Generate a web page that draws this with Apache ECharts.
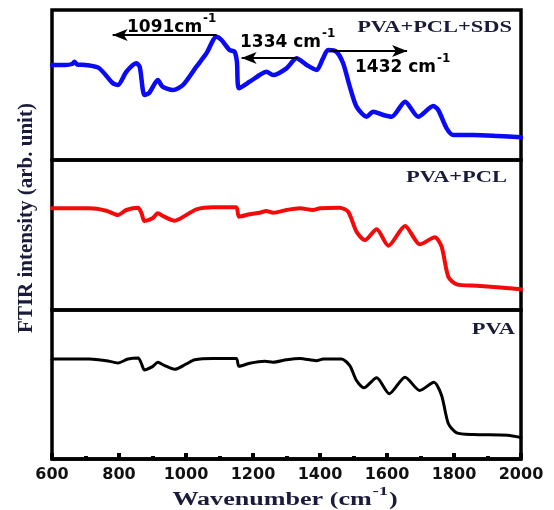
<!DOCTYPE html>
<html><head><meta charset="utf-8">
<script src="https://cdn.jsdelivr.net/npm/echarts@6/dist/echarts.min.js"></script>
<style>html,body{margin:0;padding:0;background:#fff}#c{width:554px;height:510px}</style>
</head><body><div id="c"></div>
<script>
// ---- data (wavenumber in cm^-1, intensity in arbitrary units) ----
const xTicks = [600, 800, 1000, 1200, 1400, 1600, 1800, 2000];
const panelNames = ['PVA+PCL+SDS', 'PVA+PCL', 'PVA'];

const sdsWn  = [600,640,660,667,675,700,740,781,797,822,852,862,876,890,916,930,961,991,1031,1061,1091,1106,1130,1145,1152,1158,1190,1220,1240,1260,1300,1330,1360,1390,1409,1424,1449,1469,1489,1509,1539,1559,1589,1614,1654,1693,1738,1753,1778,1798,1858,1930,2000];
const sdsVal = [95,95,96,98.3,95.5,95,92,77,75,88.3,96.7,93,65,67,80,73.3,70,75,93.3,106.7,123.3,120,110,108.3,98,71.7,78.3,85,88.3,85,91.7,101.7,95,90,101.7,110,108.3,96.7,73.3,53.3,43.3,48.3,45,43.3,58.3,43.3,54,50,31.7,25,25,24,22.7];

const pclWn  = [600,712,762,797,822,857,867,876,900,916,935,966,1001,1031,1081,1150,1158,1190,1220,1240,1260,1300,1340,1379,1400,1459,1484,1509,1534,1569,1604,1654,1698,1743,1763,1783,1808,1868,2000];
const pclVal = [101.7,101.7,99.3,95,100,102.3,97,89,91.7,96.7,93.3,89.3,95,100.7,102.7,102.7,93.3,95.7,97.3,99,97.3,100,101.7,100,101.7,102.3,98.3,78.3,70,80.7,64.3,84,65.7,72.7,63.3,33.3,25.7,24.3,20.7];

const pvaWn  = [600,712,762,797,827,857,867,876,900,916,935,966,1001,1026,1081,1150,1158,1190,1235,1260,1300,1340,1389,1410,1464,1489,1509,1531,1569,1607,1654,1698,1740,1763,1783,1808,1858,1960,2000];
const pvaVal = [100.7,100.7,99,96.7,100.7,101.7,96,89.7,93,97.3,94.3,90.3,95.7,100,101.3,101.3,93.3,96.3,98.3,97.5,100,101.3,99,100.7,100.7,94,79,71.7,81.7,65.7,82.3,69,77.3,64,35.7,26.3,24.7,24,21.7];

// peak annotations (top panel): arrows from -> to at a given level
const peakText  = ['1091cm', '1334 cm', '1432 cm'];
const arrowFrom = [1091, 1334, 1429];
const arrowTo   = [781, 1166, 1660];
const arrowLvl  = [125, 102, 109];

// ---- helpers ----
const ctx = document.createElement('canvas').getContext('2d');
function measure(t, font) { ctx.font = font; return ctx.measureText(t).width; }
const zip = (a, b) => a.map((v, i) => [v, b[i]]);

const chart = echarts.init(document.getElementById('c'), null, {renderer: 'canvas'});

const L = 52, R = 33;
const grids = [
  {left: L, right: R, top: 10, height: 150},
  {left: L, right: R, top: 160, height: 150},
  {left: L, right: R, top: 310, height: 149}
].map(g => Object.assign(g, {show: true, borderColor: '#000', borderWidth: 3.5, backgroundColor: 'transparent'}));

const xAxes = [0, 1, 2].map(i => ({
  type: 'value', gridIndex: i, min: 600, max: 2000, interval: 200,
  axisLine: {show: i === 2, lineStyle: {color: '#000', width: 3.5}},
  axisTick: {show: i === 2, inside: true, length: 6, lineStyle: {color: '#000', width: 4}},
  minorTick: {show: i === 2, splitNumber: 2, length: 3, lineStyle: {color: '#000', width: 4}},
  axisLabel: {show: i === 2, margin: 8, color: '#111', fontFamily: 'DejaVu Sans', fontWeight: 'bold', fontSize: 16,
              formatter: v => xTicks.includes(v) ? String(v) : ''},
  splitLine: {show: false}
}));
const yAxes = [0, 1, 2].map(i => ({
  type: 'value', gridIndex: i, min: 0, max: 150, show: false, splitLine: {show: false}
}));

const mk = (i, wn, val, color, w, extra) => Object.assign({
  type: 'line', xAxisIndex: i, yAxisIndex: i, data: zip(wn, val), showSymbol: false, symbol: 'none',
  smooth: 0.25, lineStyle: {color, width: w, cap: 'round', join: 'round'}, color, animation: false, silent: true
}, extra || {});

const series = [
  mk(0, sdsWn, sdsVal, '#0a0af5', 4.5, {
    markLine: {
      silent: true, animation: false, symbol: ['none', 'arrow'], symbolSize: [9, 15],
      label: {show: false}, emphasis: {disabled: true},
      lineStyle: {color: '#000', width: 2, type: 'solid'},
      data: arrowFrom.map((f, k) => [{coord: [f, arrowLvl[k]]}, {coord: [arrowTo[k], arrowLvl[k]]}])
    }
  }),
  mk(1, pclWn, pclVal, '#f50a0a', 4),
  mk(2, pvaWn, pvaVal, '#000', 3)
];

// ---- text graphics ----
const g = [];
const sansMain = 'bold 17px "DejaVu Sans"';
const sansSup = 'bold 12px "DejaVu Sans"';
const peakPos = [[127, 27.5], [240, 43], [355, 67.5]];
peakText.forEach((t, k) => {
  const [x, y] = peakPos[k];
  g.push({type: 'text', x, y, silent: true, style: {text: t, font: sansMain, fill: '#000', align: 'left', verticalAlign: 'middle'}});
  g.push({type: 'text', x: x + measure(t, sansMain) + 1, y: y - 9, silent: true, style: {text: '-1', font: sansSup, fill: '#000', align: 'left', verticalAlign: 'middle'}});
});
const serif = 'bold 17px "Liberation Serif"';
const namePos = [[512, 28], [507, 177.5], [515, 329.5]];
panelNames.forEach((t, k) => {
  g.push({type: 'text', x: namePos[k][0], y: namePos[k][1], scaleX: 1.32, silent: true,
          style: {text: t, font: serif, fill: '#1a1a3a', align: 'right', verticalAlign: 'middle'}});
});
// y axis title
g.push({type: 'text', x: 27, y: 218, rotation: Math.PI / 2, silent: true,
        style: {text: 'FTIR intensity (arb. unit)', font: 'bold 21px "Liberation Serif"', fill: '#1a1a3a', align: 'center', verticalAlign: 'middle'}});
// x axis title with superscript
(function () {
  const fMain = 'bold 18px "Liberation Serif"', fSup = 'bold 13px "Liberation Serif"';
  const a = 'Wavenumber (cm', s = '-1', b = ')';
  const wa = measure(a, fMain), ws = measure(s, fSup), wb = measure(b, fMain);
  const sc = 1.45, total = (wa + ws + 1 + wb) * sc, cx = 285, cy = 500;
  g.push({type: 'group', x: cx - total / 2, y: cy, scaleX: sc, silent: true, children: [
    {type: 'text', x: 0, y: 0, style: {text: a, font: fMain, fill: '#1a1a3a', align: 'left', verticalAlign: 'middle'}},
    {type: 'text', x: wa + 0.5, y: -8, style: {text: s, font: fSup, fill: '#1a1a3a', align: 'left', verticalAlign: 'middle'}},
    {type: 'text', x: wa + ws + 1, y: 0, style: {text: b, font: fMain, fill: '#1a1a3a', align: 'left', verticalAlign: 'middle'}}
  ]});
})();
// reference image is cropped at the right edge
g.push({type: 'rect', shape: {x: 545, y: 462, width: 9, height: 48}, style: {fill: '#fff'}, z: 100, silent: true});

chart.setOption({
  animation: false,
  backgroundColor: '#fff',
  grid: grids, xAxis: xAxes, yAxis: yAxes, series, graphic: g
});
</script></body></html>
